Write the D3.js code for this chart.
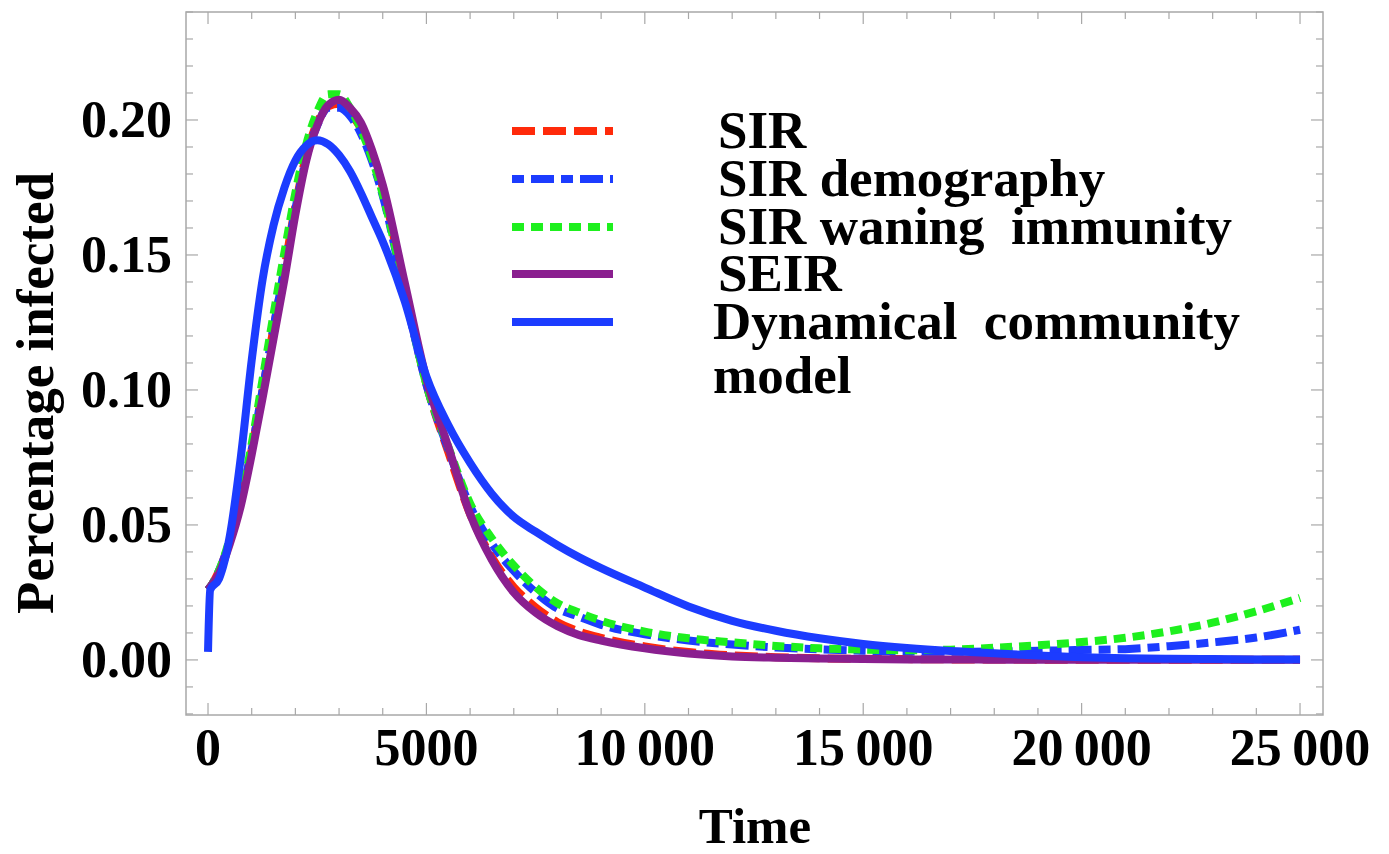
<!DOCTYPE html>
<html>
<head>
<meta charset="utf-8">
<script src="https://cdn.jsdelivr.net/npm/d3@7"></script>
<style>
  body { margin: 0; background: #fff; }
  text { font-family: "Liberation Serif", "Times New Roman", serif; font-weight: bold; fill: #000; white-space: pre; }
</style>
</head>
<body>
<div id="chart"></div>
<script>
// chart data
const time = [0, 50, 250, 500, 750, 1000, 1250, 1500, 1750, 2000, 2250, 2500, 2750, 3000, 3250, 3500, 3750, 4000,
  4500, 5000, 5500, 6000, 6500, 7000, 7500, 8000, 8500, 9000, 10000, 11000, 12000, 13000, 14000, 15000,
  16000, 17000, 18000, 19000, 20000, 21000, 22000, 23000, 24000, 25000];

const sir = [0.026, 0.027, 0.033, 0.044, 0.059, 0.078, 0.100, 0.123, 0.145, 0.168, 0.187, 0.199, 0.205, 0.206, 0.2025, 0.197, 0.188, 0.175,
  0.137, 0.102, 0.077, 0.054, 0.038, 0.027, 0.0195, 0.014, 0.0105, 0.0082, 0.005, 0.0029, 0.0017, 0.001, 0.0006, 0.0004,
  0.0003, 0.0002, 0.0002, 0.0001, 0.0001, 0.0001, 0.0001, 0.0001, 0.0001, 0.0001];

const sirDemography = [0.026, 0.027, 0.033, 0.044, 0.059, 0.078, 0.100, 0.123, 0.145, 0.167, 0.186, 0.198, 0.2045, 0.2045, 0.2015, 0.195, 0.185, 0.172,
  0.136, 0.102, 0.078, 0.057, 0.043, 0.033, 0.025, 0.019, 0.016, 0.013, 0.0095, 0.0072, 0.0057, 0.0046, 0.0039, 0.0034,
  0.0031, 0.003, 0.0031, 0.0034, 0.0037, 0.004, 0.0051, 0.0065, 0.0083, 0.0112];

const sirWaning = [0.026, 0.027, 0.033, 0.045, 0.060, 0.080, 0.104, 0.128, 0.151, 0.173, 0.191, 0.203, 0.2095, 0.2095, 0.2045, 0.1965, 0.186, 0.1725,
  0.137, 0.102, 0.079, 0.058, 0.045, 0.035, 0.027, 0.021, 0.0175, 0.0145, 0.0105, 0.008, 0.0065, 0.0052, 0.0043, 0.0038,
  0.0036, 0.0038, 0.0045, 0.0054, 0.0066, 0.0082, 0.0106, 0.0138, 0.018, 0.023];

const seir = [0.026, 0.027, 0.032, 0.043, 0.057, 0.076, 0.097, 0.119, 0.141, 0.165, 0.185, 0.198, 0.2055, 0.2075, 0.2045, 0.199, 0.189, 0.176,
  0.140, 0.104, 0.079, 0.054, 0.037, 0.025, 0.0175, 0.0125, 0.0092, 0.0072, 0.0043, 0.0024, 0.0013, 0.0008, 0.0005, 0.0003,
  0.0002, 0.0002, 0.0001, 0.0001, 0.0001, 0.0001, 0.0001, 0.0001, 0.0001, 0.0001];

const dynamical = [0.003, 0.026, 0.030, 0.046, 0.075, 0.111, 0.141, 0.161, 0.175, 0.185, 0.1905, 0.1925, 0.191, 0.187, 0.181, 0.173, 0.164, 0.155,
  0.133, 0.105, 0.087, 0.073, 0.0615, 0.053, 0.0475, 0.0425, 0.038, 0.034, 0.0268, 0.0198, 0.0145, 0.0108, 0.008, 0.0059,
  0.0044, 0.0033, 0.0025, 0.0016, 0.001, 0.0006, 0.0004, 0.0003, 0.0002, 0.0002];

const seriesNames = ['SIR', 'SIR demography', 'SIR waning  immunity', 'SEIR', 'Dynamical  community'];
const seriesValues = [sir, sirDemography, sirWaning, seir, dynamical];
const seriesColors = ['#ff2a0a', '#1c3cff', '#1ef01e', '#8a1f8f', '#1c3cff'];
const seriesDashes = ['23,8', '12,7,23,7', '12,7', null, null];

const xMajor = [0, 5000, 10000, 15000, 20000, 25000];
const xTickLabels = ['0', '5000', '10\u2009000', '15\u2009000', '20\u2009000', '25\u2009000'];
const yMajor = [0, 0.05, 0.10, 0.15, 0.20];
const yTickLabels = ['0.00', '0.05', '0.10', '0.15', '0.20'];

// SVG setup
const width = 1389;
const height = 854;
const svg = d3.select('#chart')
    .append('svg')
    .attr('width', width)
    .attr('height', height);

const frame = { left: 186, right: 1323, top: 12, bottom: 715 };

const x = d3.scaleLinear().domain([-504, 25526]).range([frame.left, frame.right]);
const y = d3.scaleLinear().domain([-0.0204, 0.24]).range([frame.bottom, frame.top]);

// frame with ticks on all four sides
const tickColor = '#a8a8a8';
svg.append('rect')
    .attr('x', frame.left)
    .attr('y', frame.top)
    .attr('width', frame.right - frame.left)
    .attr('height', frame.bottom - frame.top)
    .attr('fill', 'none')
    .attr('stroke', tickColor)
    .attr('stroke-width', 1.5);

const xMinor = d3.range(0, 25001, 1000).filter(d => !xMajor.includes(d));
const yMinor = d3.range(-2, 25).map(d => d / 100).filter(d => !yMajor.some(m => Math.abs(m - d) < 1e-9));

const ticks = svg.append('g').attr('stroke', tickColor).attr('stroke-width', 1.2);
function xTicks(values, len) {
    values.forEach(v => {
        ticks.append('line').attr('x1', x(v)).attr('x2', x(v)).attr('y1', frame.bottom).attr('y2', frame.bottom - len);
        ticks.append('line').attr('x1', x(v)).attr('x2', x(v)).attr('y1', frame.top).attr('y2', frame.top + len);
    });
}
function yTicks(values, len) {
    values.forEach(v => {
        ticks.append('line').attr('y1', y(v)).attr('y2', y(v)).attr('x1', frame.left).attr('x2', frame.left + len);
        ticks.append('line').attr('y1', y(v)).attr('y2', y(v)).attr('x1', frame.right).attr('x2', frame.right - len);
    });
}
xTicks(xMajor, 12);
xTicks(xMinor, 7);
yTicks(yMajor, 12);
yTicks(yMinor, 7);

// tick labels
svg.append('g').selectAll('text')
    .data(xMajor)
    .join('text')
    .attr('x', d => x(d))
    .attr('y', 765)
    .attr('text-anchor', 'middle')
    .attr('font-size', 52)
    .text((d, i) => xTickLabels[i]);

svg.append('g').selectAll('text')
    .data(yMajor)
    .join('text')
    .attr('x', 172)
    .attr('y', d => y(d) + 17)
    .attr('text-anchor', 'end')
    .attr('font-size', 52)
    .text((d, i) => yTickLabels[i]);

// axis titles
svg.append('text')
    .attr('x', 755)
    .attr('y', 843)
    .attr('text-anchor', 'middle')
    .attr('font-size', 51)
    .text('Time');

svg.append('text')
    .attr('transform', 'translate(53,393) rotate(-90)')
    .attr('text-anchor', 'middle')
    .attr('font-size', 53)
    .text('Percentage infected');

// curves
const line = d3.line()
    .x((d, i) => x(time[i]))
    .y(d => y(d))
    .curve(d3.curveMonotoneX);

const curves = svg.append('g')
    .attr('fill', 'none')
    .attr('stroke-width', 8);

seriesValues.forEach((vals, i) => {
    curves.append('path')
        .attr('d', line(vals))
        .attr('stroke', seriesColors[i])
        .attr('stroke-dasharray', seriesDashes[i])
        .attr('stroke-linejoin', 'round');
});

// legend
const legendY = [131, 179, 227, 274, 322];
const legendTextX = [718, 718, 718, 718, 713];
const legend = svg.append('g');
seriesNames.forEach((name, i) => {
    legend.append('line')
        .attr('x1', 512).attr('x2', 613)
        .attr('y1', legendY[i]).attr('y2', legendY[i])
        .attr('stroke', seriesColors[i])
        .attr('stroke-width', 8)
        .attr('stroke-dasharray', seriesDashes[i]);
    legend.append('text')
        .attr('x', legendTextX[i])
        .attr('y', legendY[i] + 17)
        .attr('font-size', 53)
        .text(name);
});
legend.append('text')
    .attr('x', 713)
    .attr('y', 393)
    .attr('font-size', 53)
    .text('model');
</script>
</body>
</html>
